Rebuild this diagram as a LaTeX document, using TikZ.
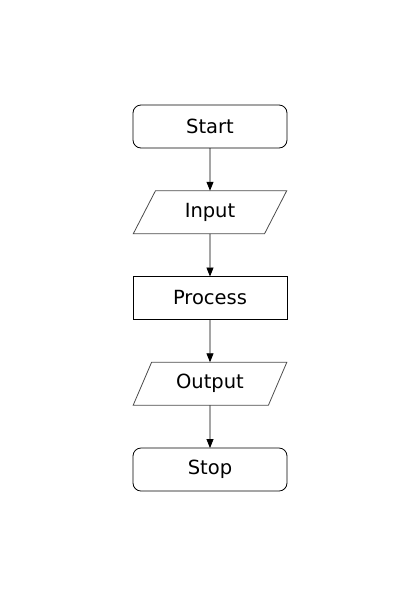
\documentclass[tikz,border=0pt]{standalone}
\usepackage{fontspec}
\setmainfont{DejaVu Sans}
\usetikzlibrary{arrows.meta,positioning}
\usetikzlibrary{shapes.geometric}
\tikzstyle{startstop} = [rectangle, rounded corners=8pt, minimum width=154pt, minimum height=43pt, outer sep=0pt, text centered, draw=black, line width=0.8pt]
\tikzstyle{io} = [trapezium, trapezium left angle=65, trapezium right angle=115, trapezium stretches=true, minimum width=154pt, minimum height=43pt, outer sep=0pt, text centered, draw=black!70, line width=0.8pt]
\tikzstyle{process} = [rectangle, minimum width=154pt, minimum height=43pt, outer sep=0pt, text centered, draw=black, line width=0.8pt]
\tikzstyle{arrow} = [line width=0.8pt,-{Triangle[length=9pt,width=7pt]}]

\begin{document}
\begin{tikzpicture}[node distance=42.75pt, font=\fontsize{19.5pt}{22pt}\selectfont]
    \useasboundingbox (0,0) rectangle (420pt,-595pt);
    \node (start) [startstop] at (210pt,-126.5pt) {Start};
    \node (in) [io, below=of start] {Input};
    \node (pro) [process, below=of in] {Process};
    \node (out) [io, below=of pro] {Output};
    \node (stop) [startstop, below=of out] {Stop};
    \draw [arrow] (start) -- (in);
    \draw [arrow] (in) -- (pro);
    \draw [arrow] (pro) -- (out);
    \draw [arrow] (out) -- (stop);
\end{tikzpicture}
\end{document}
